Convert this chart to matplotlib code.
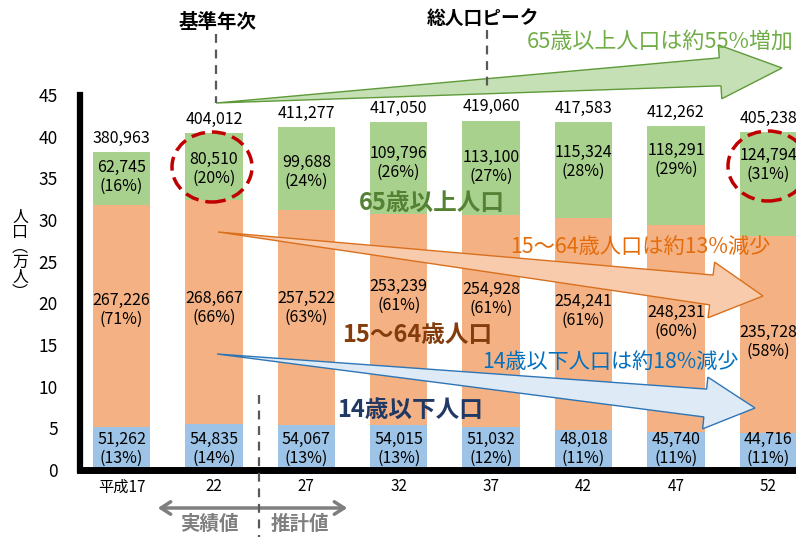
import matplotlib.pyplot as plt
import numpy as np
from matplotlib.patches import Polygon, Ellipse
from matplotlib.lines import Line2D

plt.rcParams['font.family'] = ['Noto Sans CJK JP', 'DejaVu Sans']

years = ['平成17', '22', '27', '32', '37', '42', '47', '52']
under14 = [51262, 54835, 54067, 54015, 51032, 48018, 45740, 44716]
under14_pct = [13, 14, 13, 13, 12, 11, 11, 11]
age15_64 = [267226, 268667, 257522, 253239, 254928, 254241, 248231, 235728]
age15_64_pct = [71, 66, 63, 61, 61, 61, 60, 58]
over65 = [62745, 80510, 99688, 109796, 113100, 115324, 118291, 124794]
over65_pct = [16, 20, 24, 26, 27, 28, 29, 31]
total = [380963, 404012, 411277, 417050, 419060, 417583, 412262, 405238]

# label heights (万人) inside the bars
mid_label_y = [19.2, 19.5, 19.5, 20.9, 20.5, 19.1, 17.8, 15.4]
top_label_y = [35.2, 36.1, 35.8, 36.9, 36.4, 37.0, 37.2, 36.6]

W, H = 796, 537
fig = plt.figure(figsize=(W / 100, H / 100), dpi=100)
ax = fig.add_axes([80 / W, 1 - 470 / H, 716 / W, 375 / H])

x = np.arange(len(years))
b = np.array(under14) / 1e4
m = np.array(age15_64) / 1e4
o = np.array(over65) / 1e4
bw = 0.62
ax.bar(x, b, bw, color='#9DC3E6')
ax.bar(x, m, bw, bottom=b, color='#F4B183')
ax.bar(x, o, bw, bottom=b + m, color='#A9D18E')

fs = 11.5
for i in x:
    ax.text(i, 2.5, f'{under14[i]:,}\n({under14_pct[i]}%)', ha='center', va='center', fontsize=fs, linespacing=1.15)
    ax.text(i, mid_label_y[i], f'{age15_64[i]:,}\n({age15_64_pct[i]}%)', ha='center', va='center', fontsize=fs, linespacing=1.15)
    ax.text(i, top_label_y[i], f'{over65[i]:,}\n({over65_pct[i]}%)', ha='center', va='center', fontsize=fs, linespacing=1.15)
    ax.annotate(f'{total[i]:,}', (i, b[i] + m[i] + o[i]), xytext=(0, 4), textcoords='offset points',
                ha='center', va='bottom', fontsize=fs)

ax.set_xlim(-0.45, 7.3)
ax.set_ylim(0, 45)
ax.set_yticks(range(0, 46, 5))
ax.set_xticks(x)
ax.set_xticklabels(years, fontsize=11)
ax.tick_params(axis='y', length=0, pad=16, labelsize=12.5)
ax.tick_params(axis='x', length=0, pad=6)
for s in ['top', 'right']:
    ax.spines[s].set_visible(False)
ax.spines['left'].set_linewidth(4.5)
ax.spines['bottom'].set_linewidth(5)
ax.spines['left'].set_zorder(5)
ax.spines['bottom'].set_zorder(5)

fig.text(20 / W, 1 - 255 / H, '人\n口\n︵\n万\n人\n︶', ha='center', va='center', fontsize=11.5, linespacing=0.85)


def fp(px, py):
    return (px / W, 1 - py / H)


def wedge(tail, tip, body_w, head_w, head_len, fc, ec):
    tail = np.array(tail, float)
    tip = np.array(tip, float)
    d = tip - tail
    u = d / np.hypot(*d)
    n = np.array([-u[1], u[0]])
    base = tip - u * head_len
    pts = [tail, base + n * body_w, base + n * head_w, tip, base - n * head_w, base - n * body_w]
    fig.add_artist(Polygon([fp(*p) for p in pts], closed=True, transform=fig.transFigure,
                           facecolor=fc, edgecolor=ec, lw=1, zorder=2))


wedge((216, 103), (782, 68), 14, 27, 62, '#C5E0B4', '#5E9A3A')
wedge((218, 232), (763, 296), 15, 28, 52, '#F8CBAD', '#D9701E')
wedge((217, 354), (755, 408), 14, 26, 50, '#DEEBF7', '#2E75B6')


def dline(x0, y0, x1, y1):
    fig.add_artist(Line2D([x0 / W, x1 / W], [1 - y0 / H, 1 - y1 / H], transform=fig.transFigure,
                          color='#595959', lw=1.6, ls=(0, (4, 3)), zorder=3))


dline(216, 34, 216, 103)
dline(487, 30, 487, 92)
dline(259, 395, 259, 537)

for cx, cy in [(212, 167), (768, 166)]:
    fig.add_artist(Ellipse(fp(cx, cy), 80 / W, 70 / H, transform=fig.transFigure, fill=False,
                           edgecolor='#C00000', lw=2.5, ls=(0, (4, 2)), zorder=4))

fig.text(*fp(218, 22), '基準年次', ha='center', va='center', fontsize=14, fontweight='bold', zorder=5)
fig.text(*fp(483, 18), '総人口ピーク', ha='center', va='center', fontsize=13.5, fontweight='bold', zorder=5)
fig.text(*fp(660, 42), '65歳以上人口は約55%増加', ha='center', va='center', fontsize=15.8, color='#70AD47', zorder=5)
fig.text(*fp(640, 247), '15～64歳人口は約13%減少', ha='center', va='center', fontsize=15.3, color='#E46C0A', zorder=5)
fig.text(*fp(610, 362), '14歳以下人口は約18%減少', ha='center', va='center', fontsize=15.2, color='#0070C0', zorder=5)

fig.text(*fp(432, 203), '65歳以上人口', ha='center', va='center', fontsize=17, fontweight='bold', color='#548235', zorder=5)
fig.text(*fp(417, 335), '15～64歳人口', ha='center', va='center', fontsize=17, fontweight='bold', color='#843C0C', zorder=5)
fig.text(*fp(410, 410), '14歳以下人口', ha='center', va='center', fontsize=17, fontweight='bold', color='#203864', zorder=5)

ax.annotate('', xy=fp(155, 508), xytext=fp(350, 508), xycoords='figure fraction', textcoords='figure fraction',
            arrowprops=dict(arrowstyle='<->,head_length=0.7,head_width=0.45', color='#7F7F7F', lw=2.5))
fig.text(*fp(209, 524), '実績値', ha='center', va='center', fontsize=14, fontweight='bold', color='#7F7F7F')
fig.text(*fp(300, 524), '推計値', ha='center', va='center', fontsize=14, fontweight='bold', color='#7F7F7F')

fig.savefig('out.png', dpi=100)
